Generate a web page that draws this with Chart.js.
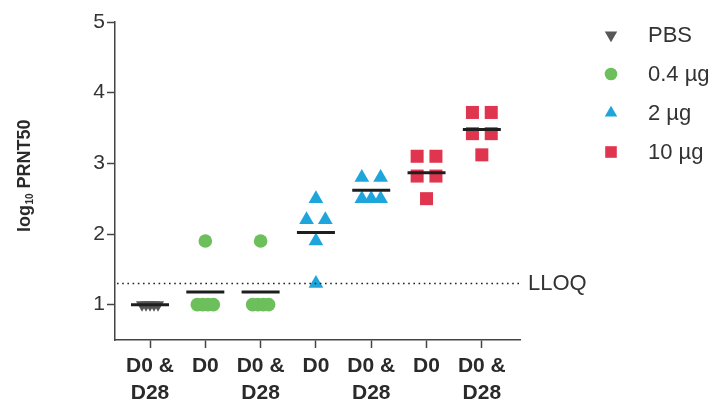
<!DOCTYPE html>
<html><head><meta charset="utf-8">
<script src="https://cdn.jsdelivr.net/npm/chart.js@4.4.0/dist/chart.umd.min.js"></script>
<style>html,body{margin:0;padding:0;background:#fff;}canvas{display:block;}</style>
</head><body>
<div style="width:715px;height:407px;"><canvas id="c" width="715" height="407"></canvas></div>
<script>
// ---------- data ----------
const categories = [["D0 &","D28"], "D0", ["D0 &","D28"], "D0", ["D0 &","D28"], "D0", ["D0 &","D28"]];
const yTickValues = [1, 2, 3, 4, 5];
const seriesNames = ["PBS", "0.4 µg", "2 µg", "10 µg"];
const pbs_D0D28   = [1.0, 1.0, 1.0, 1.0, 1.0];
const ug04_D0     = [1.9, 1.0, 1.0, 1.0, 1.0];
const ug04_D0D28  = [1.9, 1.0, 1.0, 1.0, 1.0];
const ug2_D0      = [2.5, 2.2, 2.2, 1.9, 1.3];
const ug2_D0D28   = [2.8, 2.8, 2.5, 2.5, 2.5];
const ug10_D0     = [3.1, 3.1, 2.82, 2.82, 2.5];
const ug10_D0D28  = [3.72, 3.72, 3.42, 3.42, 3.12];
const lloq = 1.3;
const lloqLabel = "LLOQ";

// groups in category order, with the series each belongs to
const groups = [
  {series: 0, values: pbs_D0D28},
  {series: 1, values: ug04_D0},
  {series: 1, values: ug04_D0D28},
  {series: 2, values: ug2_D0},
  {series: 2, values: ug2_D0D28},
  {series: 3, values: ug10_D0},
  {series: 3, values: ug10_D0D28}
];

// ---------- styles ----------
const FONT = "'Liberation Sans', Arial, Helvetica, sans-serif";
const seriesStyle = [
  {color: '#575757', pointStyle: 'triangle', rotation: 180, radius: 7},
  {color: '#6cbf5b', pointStyle: 'circle',   rotation: 0,   radius: 6.8},
  {color: '#1ea6dc', pointStyle: 'triangle', rotation: 0,   radius: 8.5},
  {color: '#e0354f', pointStyle: 'rect',     rotation: 0,   radius: 9.2}
];
const SWARM_HALF = 0.17;

// beeswarm-like horizontal spread of equal values within a column
function swarm(values, cat) {
  const rows = {};
  values.forEach(v => { (rows[v] = rows[v] || []).push(v); });
  const pts = [];
  Object.keys(rows).forEach(k => {
    const r = rows[k], n = r.length;
    const half = n >= 4 ? SWARM_HALF * 0.85 : SWARM_HALF;
    r.forEach((v, j) => {
      const off = n === 1 ? 0 : -half + (2 * half) * j / (n - 1);
      pts.push({x: cat + off, y: v});
    });
  });
  return pts;
}
const mean = a => a.reduce((s, v) => s + v, 0) / a.length;

const datasets = [];
// mean lines
datasets.push({
  label: 'mean',
  data: groups.map((g, i) => ({x: i, y: mean(g.values)})),
  pointStyle: 'line', pointRadius: 19, pointBorderWidth: 3,
  pointBorderColor: '#1e1e1e', pointBackgroundColor: '#1e1e1e',
  showLine: false, order: -1
});
seriesNames.forEach((name, s) => {
  const st = seriesStyle[s];
  let data = [];
  groups.forEach((g, i) => { if (g.series === s) data = data.concat(swarm(g.values, i)); });
  datasets.push({
    label: name, data,
    pointStyle: st.pointStyle, pointRotation: st.rotation, pointRadius: st.radius,
    pointBackgroundColor: st.color, pointBorderColor: st.color, pointBorderWidth: 0,
    showLine: false, order: 1
  });
});

// ---------- plugins ----------
const extras = {
  id: 'extras',
  afterDatasetsDraw(chart) {
    const {ctx, chartArea: ca, scales: {y}} = chart;
    // LLOQ dotted line
    const yl = y.getPixelForValue(lloq);
    ctx.save();
    ctx.strokeStyle = '#222';
    ctx.lineWidth = 1.4;
    ctx.setLineDash([1.6, 3.6]);
    ctx.beginPath(); ctx.moveTo(ca.left + 2, yl); ctx.lineTo(ca.right, yl); ctx.stroke();
    ctx.setLineDash([]);
    ctx.fillStyle = '#333';
    ctx.font = '22px ' + FONT;
    ctx.textBaseline = 'middle';
    ctx.textAlign = 'left';
    ctx.fillText(lloqLabel, ca.right + 8, yl);
    ctx.restore();
  },
  afterDraw(chart) {
    const {ctx, chartArea: ca} = chart;
    // legend
    ctx.save();
    seriesNames.forEach((name, s) => {
      const st = seriesStyle[s];
      const yy = 35 + s * 39;
      ctx.fillStyle = st.color;
      ctx.strokeStyle = st.color;
      Chart.helpers.drawPoint(ctx, {pointStyle: st.pointStyle, rotation: st.rotation,
        radius: st.pointStyle === 'rect' ? 8.2 : (st.pointStyle === 'circle' ? 6.3 : 7.2), borderWidth: 0}, 611, yy);
      ctx.fillStyle = '#333';
      ctx.font = '22px ' + FONT;
      ctx.textBaseline = 'middle';
      ctx.textAlign = 'left';
      ctx.fillText(name, 648, yy + 1);
    });
    ctx.restore();
    // y axis title with subscript
    ctx.save();
    const cy = (ca.top + ca.bottom) / 2 - 5;
    ctx.translate(23, cy);
    ctx.rotate(-Math.PI / 2);
    ctx.fillStyle = '#2a2a2a';
    const big = 'bold 18px ' + FONT, small = 'bold 10px ' + FONT;
    ctx.font = big; const w1 = ctx.measureText('log').width; const w3 = ctx.measureText(' PRNT50').width;
    ctx.font = small; const w2 = ctx.measureText('10').width;
    let x0 = -(w1 + w2 + w3) / 2;
    ctx.textBaseline = 'alphabetic'; ctx.textAlign = 'left';
    ctx.font = big; ctx.fillText('log', x0, 6.5); x0 += w1;
    ctx.font = small; ctx.fillText('10', x0 + 0.5, 9.5); x0 += w2 + 0.5;
    ctx.font = big; ctx.fillText(' PRNT50', x0, 6.5);
    ctx.restore();
  }
};

new Chart(document.getElementById('c'), {
  type: 'scatter',
  data: {datasets},
  options: {
    responsive: false,
    animation: false,
    devicePixelRatio: 1,
    layout: {padding: {top: 17, right: 195, left: 0, bottom: 0}},
    plugins: {legend: {display: false}, tooltip: {enabled: false}},
    scales: {
      x: {
        type: 'linear', min: -0.633, max: 6.69,
        afterBuildTicks: sc => { sc.ticks = categories.map((_, i) => ({value: i})); },
        afterFit: sc => { sc.height = 67; },
        ticks: {
          autoSkip: false, maxRotation: 0, minRotation: 0, padding: 5,
          color: '#2a2a2a',
          font: {family: FONT, size: 21, weight: 'bold', lineHeight: 1.29},
          callback: v => categories[v]
        },
        grid: {drawOnChartArea: false, drawTicks: true, tickLength: 8, tickWidth: 1.5, tickColor: '#444'},
        border: {display: true, color: '#444', width: 1.5}
      },
      y: {
        type: 'linear', min: 0.5, max: 5,
        afterBuildTicks: sc => { sc.ticks = yTickValues.map(v => ({value: v})); },
        afterFit: sc => { sc.width = 115; },
        ticks: {
          padding: 2, color: '#333',
          font: {family: FONT, size: 21},
          callback: v => String(v)
        },
        grid: {drawOnChartArea: false, drawTicks: true, tickLength: 8, tickWidth: 1.5, tickColor: '#444'},
        border: {display: true, color: '#444', width: 1.5}
      }
    }
  },
  plugins: [extras]
});
</script>
</body></html>
